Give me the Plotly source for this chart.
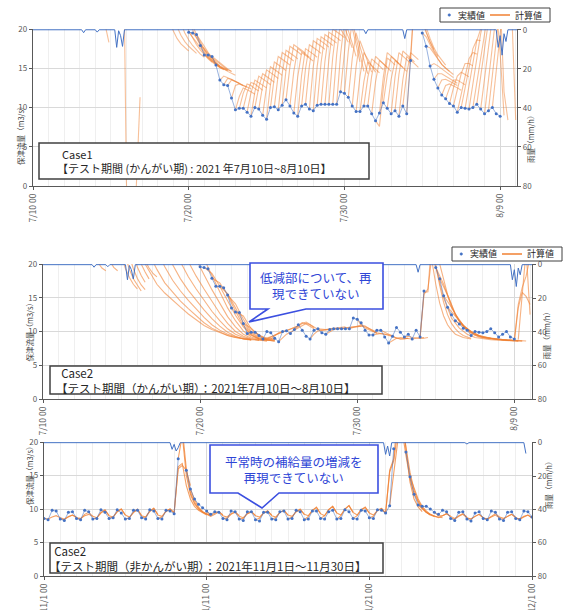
import plotly.graph_objects as go
import pandas as pd

# ======================= DATA =======================
# Observed flow (m3/s), 6-hourly from 2021-07-20 00:00 (None = above 20, off chart)
obs_jul_start = "2021-07-20 00:00"
obs_jul = [
    19.6, 19.5, 19.3, 17.9,   # 7/20
    16.7, 16.7, 16.5, 15.4,   # 7/21
    13.5, 12.9, 12.8, 11.2,   # 7/22
    9.7, 9.9, 9.9, 9.4,       # 7/23
    8.9, 10.0, 9.8, 9.0,      # 7/24
    8.5, 10.0, 10.1, 9.7,     # 7/25
    10.3, 11.0, 10.2, 9.3,    # 7/26
    8.9, 10.2, 10.4, 9.8,     # 7/27
    9.6, 10.3, 10.4, 10.4,    # 7/28
    10.4, 10.4, 10.4, 12.0,   # 7/29
    11.8, 11.3, 10.2, 9.5,    # 7/30
    9.5, 10.2, 10.2, 9.2,     # 7/31
    8.3, 9.3, 10.6, 9.9,      # 8/1
    9.2, 9.6, 8.9, 10.2,      # 8/2
    9.2, 16.0, None, None,    # 8/3
    19.5, 17.8, 15.3, 13.6,   # 8/4
    12.5, 11.6, 11.1, 10.5,   # 8/5
    10.2, 9.4, 10.0, 9.9,     # 8/6
    9.8, 10.0, 10.4, 9.8,     # 8/7
    9.2, 9.6, 10.0, 9.2,      # 8/8
    8.9,                      # 8/9
]

# Observed flow, 6-hourly from 2021-11-01 00:00
obs_nov_start = "2021-11-01 00:00"
obs_nov = [
    8.6, 8.4, 9.8, 9.7,    # 11/1
    8.5, 8.3, 9.5, 9.6,    # 11/2
    8.6, 8.4, 9.8, 9.6,    # 11/3
    8.5, 8.6, 9.9, 9.5,    # 11/4
    8.6, 8.7, 9.9, 9.4,    # 11/5
    8.5, 8.6, 9.8, 9.8,    # 11/6
    8.7, 8.5, 9.9, 9.7,    # 11/7
    8.6, 8.5, 9.8, 9.7,    # 11/8
    9.3, 17.5, None, 15.8, # 11/9
    13.0, 11.5, 10.7, 10.2,# 11/10
    9.7, 9.2, 9.6, 9.5,    # 11/11
    8.6, 8.4, 9.7, 9.6,    # 11/12
    8.5, 8.3, 9.6, 9.6,    # 11/13
    8.4, 8.2, 9.5, 9.5,    # 11/14
    8.5, 8.4, 9.6, 9.7,    # 11/15
    8.5, 8.6, 9.8, 9.6,    # 11/16
    8.4, 8.5, 9.7, 9.7,    # 11/17
    8.6, 8.5, 9.6, 9.8,    # 11/18
    8.5, 8.6, 9.9, 9.6,    # 11/19
    8.6, 8.5, 9.8, 9.7,    # 11/20
    8.7, 8.6, 9.9, 9.8,    # 11/21
    9.4, 10.5, 19.0, None, # 11/22
    None, 18.5, 14.8, 12.2,# 11/23
    10.6, 10.4, 10.4, 10.0,# 11/24
    9.5, 9.2, 9.8, 9.6,    # 11/25
    8.6, 8.3, 9.5, 9.6,    # 11/26
    8.5, 8.2, 9.4, 9.6,    # 11/27
    8.6, 8.4, 9.7, 9.5,    # 11/28
    8.5, 8.3, 9.5, 9.6,    # 11/29
    8.6, 8.4, 9.7, 9.6,    # 11/30
    8.8,                   # 12/1
]

# Rainfall (mm/h) event points
rain_jul_t = ["2021-07-10 00:00", "2021-07-13 03:00", "2021-07-13 06:00", "2021-07-13 09:00",
              "2021-07-14 00:00", "2021-07-14 03:00", "2021-07-14 06:00",
              "2021-07-15 06:00", "2021-07-15 09:00", "2021-07-15 12:00", "2021-07-15 15:00",
              "2021-07-15 18:00", "2021-07-15 21:00",
              "2021-07-31 06:00", "2021-07-31 09:00", "2021-07-31 12:00",
              "2021-08-02 18:00", "2021-08-02 21:00", "2021-08-03 00:00",
              "2021-08-08 18:00", "2021-08-08 21:00", "2021-08-09 00:00", "2021-08-09 03:00",
              "2021-08-09 06:00", "2021-08-09 09:00", "2021-08-09 12:00", "2021-08-10 03:00"]
rain_jul_v = [0, 0, 1.5, 0,
              0, 1.2, 0,
              0, 9.0, 0.5, 3.0, 8.5, 0,
              0, 2.0, 0,
              0, 4.5, 0,
              0, 9.0, 3.0, 13.0, 2.0, 6.0, 0, 0]

rain_nov_t = ["2021-11-01 00:00", "2021-11-08 18:00", "2021-11-08 21:00", "2021-11-09 00:00",
              "2021-11-09 03:00", "2021-11-09 06:00", "2021-11-09 09:00",
              "2021-11-21 21:00", "2021-11-22 00:00", "2021-11-22 03:00", "2021-11-22 06:00",
              "2021-11-22 09:00",
              "2021-11-26 21:00", "2021-11-27 00:00", "2021-11-27 03:00",
              "2021-11-30 12:00", "2021-11-30 15:00"]
rain_nov_v = [0, 0, 4.0, 1.0, 5.0, 3.0, 0,
              0, 7.0, 2.0, 8.0, 0,
              0, 0.8, 0,
              0, 6.5]

# Calculated flows: (issue time, step hours, values)
case1_fc = [
    ("2021-07-14 15:00", 3, [20.6, 19.4, 18.3]),
    ("2021-07-15 21:00", 3, [21.0, 0.5, -8.0]),
    ("2021-07-16 15:00", 3, [-0.5, 5.5, 11.3]),
    ("2021-07-18 12:00", 6, [23, 21.2, 19.8, 18.8, 18.1, 17.6, 17.2]),
    ("2021-07-18 18:00", 6, [23.5, 21.8, 20.3, 19.2, 18.4, 17.8, 17.3, 16.9]),
    ("2021-07-19 00:00", 6, [24, 22.2, 20.7, 19.5, 18.6, 17.9, 17.3, 16.8, 16.4]),
    ("2021-07-19 06:00", 6, [24, 22.4, 21.0, 19.8, 18.8, 18.0, 17.3, 16.7, 16.2, 15.8]),
    ("2021-07-19 12:00", 6, [24, 22.5, 21.1, 19.9, 18.8, 17.9, 17.1, 16.4, 15.9, 15.5]),
    ("2021-07-19 18:00", 6, [23, 21.6, 20.4, 19.3, 18.3, 17.4, 16.7, 16.1, 15.6, 15.2]),
    ("2021-07-20 00:00", 6, [19.6, 19.0, 18.3, 17.6, 16.9, 16.3, 15.8, 15.4, 15.1, 14.9]),
    ("2021-07-20 06:00", 6, [19.5, 18.9, 18.1, 17.3, 16.6, 16.0, 15.5, 15.1, 14.8]),
    ("2021-07-20 12:00", 6, [19.3, 18.6, 17.8, 17.0, 16.3, 15.7, 15.2, 14.9, 14.7]),
    ("2021-07-20 18:00", 6, [17.9, 17.5, 16.9, 16.3, 15.7, 15.3, 15.0, 14.8]),
    ("2021-07-21 00:00", 6, [16.7, 16.4, 16.0, 15.6, 15.2, 14.9, 14.7]),
    ("2021-07-21 06:00", 6, [16.7, 16.3, 15.9, 15.5, 15.1, 14.8, 14.6]),
    ("2021-07-21 12:00", 6, [16.5, 16.1, 15.6, 15.2, 14.9, 14.6]),
    ("2021-07-21 18:00", 6, [15.4, 15.2, 14.9, 14.6, 14.3, 14.1]),
    ("2021-07-22 00:00", 6, [13.5, 14.0, 13.8, 13.5, 13.3, 13.1]),
    ("2021-07-22 06:00", 6, [12.9, 13.7, 13.6, 13.3, 13.0, 12.8]),
    ("2021-07-22 12:00", 6, [12.8, 13.5, 13.3, 13.0, 12.8, 12.6]),
    ("2021-07-22 18:00", 6, [11.2, 12.8, 13.0, 12.8, 12.6, 12.4]),
    ("2021-07-23 00:00", 6, [9.7, 11.4, 12.5, 12.3, 12.0, 11.7]),
    ("2021-07-23 06:00", 6, [9.9, 11.8, 13.0, 12.8, 12.4, 12.1]),
    ("2021-07-23 12:00", 6, [9.9, 11.9, 13.2, 13.0, 12.6, 12.2]),
    ("2021-07-23 18:00", 6, [9.4, 11.9, 13.5, 13.2, 12.9, 12.5]),
    ("2021-07-24 00:00", 6, [8.9, 12.0, 14.0, 13.7, 13.3, 12.9]),
    ("2021-07-24 06:00", 6, [10.0, 12.6, 14.3, 14.0, 13.6, 13.2]),
    ("2021-07-24 12:00", 6, [9.8, 12.8, 14.8, 14.5, 14.1, 13.7]),
    ("2021-07-24 18:00", 6, [9.0, 12.7, 15.2, 14.9, 14.5, 14.1]),
    ("2021-07-25 00:00", 6, [8.5, 12.9, 15.8, 15.5, 15.1, 14.7]),
    ("2021-07-25 06:00", 6, [10.0, 13.9, 16.5, 16.2, 15.8, 15.4]),
    ("2021-07-25 12:00", 6, [10.1, 14.2, 17.0, 16.7, 16.3, 15.9]),
    ("2021-07-25 18:00", 6, [9.7, 14.3, 17.3, 17.0, 16.6, 16.2]),
    ("2021-07-26 00:00", 6, [10.3, 14.8, 17.8, 17.5, 17.1, 16.7]),
    ("2021-07-26 06:00", 6, [11.0, 15.2, 18.0, 17.7, 17.3, 16.9]),
    ("2021-07-26 12:00", 6, [10.2, 14.6, 17.5, 17.2, 16.8, 16.4]),
    ("2021-07-26 18:00", 6, [9.3, 13.9, 17.0, 16.7, 16.3, 15.9]),
    ("2021-07-27 00:00", 6, [8.9, 14.1, 17.5, 17.2, 16.8, 16.4]),
    ("2021-07-27 06:00", 6, [10.2, 14.9, 18.0, 17.7, 17.3, 16.9]),
    ("2021-07-27 12:00", 6, [10.4, 15.3, 18.5, 18.2, 17.8, 17.4]),
    ("2021-07-27 18:00", 6, [9.8, 15.2, 18.8, 18.5, 18.1, 17.7]),
    ("2021-07-28 00:00", 6, [9.6, 15.2, 19.0, 18.7, 18.3, 17.9]),
    ("2021-07-28 06:00", 6, [10.3, 15.7, 19.3, 19.0, 18.6, 18.2]),
    ("2021-07-28 12:00", 6, [10.4, 15.9, 19.6, 19.3, 18.9, 18.5]),
    ("2021-07-28 18:00", 6, [10.4, 16.1, 20.0, 19.7, 19.3, 18.9]),
    ("2021-07-29 00:00", 6, [10.4, 16.4, 20.5, 20.0, 19.2, 18.3]),
    ("2021-07-29 06:00", 6, [10.4, 16.7, 21.0, 20.2, 19.0, 17.6]),
    ("2021-07-29 12:00", 6, [10.4, 16.7, 21.0, 19.8, 18.2, 16.5]),
    ("2021-07-29 18:00", 6, [12.0, 18.0, 22.0, 20.2, 18.0, 15.8]),
    ("2021-07-30 00:00", 6, [11.8, 17.2, 21.0, 19.0, 16.8, 14.6]),
    ("2021-07-30 06:00", 6, [11.3, 16.2, 19.5, 17.8, 16.0, 14.3]),
    ("2021-07-30 12:00", 6, [10.2, 15.2, 18.5, 17.2, 15.8, 14.5]),
    ("2021-07-30 18:00", 6, [9.5, 14.0, 17.0, 16.2, 15.3, 14.5]),
    ("2021-07-31 00:00", 6, [9.5, 13.3, 15.8, 15.4, 14.9, 14.4]),
    ("2021-07-31 06:00", 6, [10.2, 13.8, 16.2, 15.8, 15.3, 14.8]),
    ("2021-07-31 12:00", 6, [10.2, 14.0, 16.5, 16.1, 15.6, 15.1]),
    ("2021-07-31 18:00", 6, [9.2, 13.3, 16.0, 15.6, 15.1, 14.6]),
    ("2021-08-01 00:00", 6, [8.3, 7.6, 12.5, 16.3, 15.9, 15.4]),
    ("2021-08-01 06:00", 6, [9.3, 13.9, 17.0, 16.6, 16.1, 15.6]),
    ("2021-08-01 12:00", 6, [10.6, 14.1, 16.5, 16.1, 15.6, 15.1]),
    ("2021-08-01 18:00", 6, [9.9, 13.6, 16.0, 15.6, 15.1, 14.6]),
    ("2021-08-02 00:00", 6, [9.2, 13.9, 17.0, 16.6, 16.1, 15.6]),
    ("2021-08-02 06:00", 6, [9.6, 14.2, 17.2, 16.8, 16.3, 15.8]),
    ("2021-08-02 12:00", 6, [8.9, 13.5, 16.5, 16.1, 15.6, 15.1]),
    ("2021-08-02 18:00", 6, [10.2, 14.3, 17.0, 16.6, 16.1]),
    ("2021-08-03 00:00", 6, [9.2, 16.0, 24.0]),
    ("2021-08-03 06:00", 6, [16.0, 24, 22.5, 21.0, 19.6, 18.4, 17.4]),
    ("2021-08-03 12:00", 6, [25, 23, 21.2, 19.6, 18.3, 17.3, 16.5]),
    ("2021-08-03 18:00", 6, [24, 22, 20.2, 18.8, 17.6, 16.7, 16.0, 15.4]),
    ("2021-08-04 00:00", 6, [19.5, 19.0, 18.0, 17.0, 16.2, 15.5, 15.0, 14.6]),
    ("2021-08-04 06:00", 6, [17.8, 17.6, 16.9, 16.2, 15.5, 15.0, 14.6, 14.2]),
    ("2021-08-04 12:00", 6, [15.3, 15.6, 15.3, 14.9, 14.5, 14.1, 13.8]),
    ("2021-08-04 18:00", 6, [13.6, 14.3, 14.3, 14.0, 13.7, 13.4, 13.1]),
    ("2021-08-05 00:00", 6, [12.5, 13.5, 13.6, 13.4, 13.1, 12.8]),
    ("2021-08-05 06:00", 6, [11.6, 12.8, 13.0, 12.8, 12.5, 12.2]),
    ("2021-08-05 12:00", 6, [11.1, 12.5, 13.5, 13.5, 13.2, 12.9]),
    ("2021-08-05 18:00", 6, [10.5, 12.5, 14.0, 14.5, 14.2, 13.9]),
    ("2021-08-06 00:00", 6, [10.2, 12.3, 14.3, 15.6, 15.6, 15.3]),
    ("2021-08-06 06:00", 6, [9.4, 11.8, 14.2, 16.2, 17.0, 16.8]),
    ("2021-08-06 12:00", 6, [10.0, 12.6, 15.2, 17.5, 18.6, 18.5]),
    ("2021-08-06 18:00", 6, [9.9, 12.8, 15.8, 18.5, 20.0, 20.2]),
    ("2021-08-07 00:00", 6, [9.8, 13.0, 16.4, 19.4, 21.5, 22.0]),
    ("2021-08-07 06:00", 6, [10.0, 13.4, 17.0, 20.2, 22.5]),
    ("2021-08-07 12:00", 6, [10.4, 14.0, 17.8, 21.0, 23.0]),
    ("2021-08-07 18:00", 6, [9.8, 13.8, 18.0, 21.5, 23.5]),
    ("2021-08-08 00:00", 6, [9.2, 13.5, 18.0, 22.0]),
    ("2021-08-08 06:00", 6, [9.6, 14.2, 19.0, 23.0]),
    ("2021-08-08 12:00", 6, [10.0, 15.0, 20.0, 24.0]),
    ("2021-08-08 18:00", 6, [23.0, 17.0, 9.0]),
    ("2021-08-09 00:00", 6, [24.0, 12.0, 8.4]),
    ("2021-08-09 18:00", 6, [22.0, 8.4]),
]

case2_fc = [
    ("2021-07-13 06:00", 6, [21.5, 20.2, 19.4, 19.0]),
    ("2021-07-14 00:00", 6, [22.0, 20.5, 19.5, 19.0]),
    ("2021-07-14 18:00", 6, [23.0, 21.0, 19.3, 18.0, 17.0, 16.3]),
    ("2021-07-15 00:00", 6, [23.0, 21.0, 19.2, 17.8, 16.8, 16.0]),
    ("2021-07-15 06:00", 6, [23.0, 21.0, 19.3, 17.9, 16.9, 16.2]),
    ("2021-07-15 12:00", 6, [23.0, 21.2, 19.6, 18.3, 17.3]),
    ("2021-07-15 18:00", 6, [23.0, 21.4, 20.0, 18.8, 17.8]),
    ("2021-07-16 06:00", 6, [22.0, 20.5, 19.4, 18.6, 18.1]),
    ("2021-07-16 06:00", 12, [21.0, 18.9, 17.0, 15.7, 14.6, 13.6, 12.6, 11.7, 10.9, 10.3, 9.8, 9.4, 9.1, 8.9, 8.8]),
    ("2021-07-16 18:00", 12, [21.5, 19.2, 17.2, 15.8, 14.5, 13.4, 12.3, 11.3, 10.5, 9.9, 9.4, 9.1, 8.9, 8.8]),
    ("2021-07-17 06:00", 12, [22.0, 19.6, 17.6, 16.0, 14.6, 13.3, 12.1, 11.0, 10.2, 9.6, 9.2, 8.9, 8.8]),
    ("2021-07-17 18:00", 12, [22.0, 19.8, 17.8, 16.1, 14.6, 13.2, 11.9, 10.8, 9.9, 9.3, 8.9, 8.7]),
    ("2021-07-18 06:00", 12, [22.5, 20.2, 18.1, 16.3, 14.6, 13.0, 11.6, 10.4, 9.6, 9.1, 8.8, 8.7]),
    ("2021-07-18 18:00", 12, [22.5, 20.3, 18.2, 16.3, 14.4, 12.7, 11.2, 10.0, 9.3, 8.9, 8.7]),
    ("2021-07-19 06:00", 12, [23.0, 20.6, 18.4, 16.2, 14.1, 12.2, 10.7, 9.6, 9.0, 8.7, 8.6]),
    ("2021-07-19 18:00", 12, [23.0, 20.8, 18.3, 15.8, 13.5, 11.6, 10.1, 9.2, 8.8, 8.6]),
    ("2021-07-20 06:00", 12, [19.5, 18.6, 16.7, 14.5, 12.4, 10.7, 9.5, 8.9, 8.7, 8.6]),
    ("2021-07-20 18:00", 12, [17.9, 17.2, 15.4, 13.0, 10.9, 9.6, 8.9, 8.7, 8.6]),
    ("2021-07-21 06:00", 12, [16.7, 15.6, 13.5, 11.3, 9.8, 9.0, 8.7, 8.6]),
    ("2021-07-21 18:00", 12, [15.4, 14.1, 11.8, 10.0, 9.1, 8.8, 8.7]),
    ("2021-07-22 06:00", 12, [12.9, 12.3, 10.4, 9.3, 8.9, 8.8]),
    ("2021-07-22 18:00", 12, [11.2, 10.5, 9.4, 9.0, 8.9]),
    ("2021-07-23 00:00", 6, [9.7, 9.4, 9.1, 8.9, 8.8, 8.9, 9.2, 9.5, 9.7, 9.9]),
    ("2021-07-23 12:00", 6, [9.9, 9.5, 9.1, 8.8, 8.9, 9.3, 9.8, 10.0, 10.1]),
    ("2021-07-24 00:00", 6, [8.9, 9.0, 9.2, 9.5, 9.7, 9.9, 10.1, 10.3, 10.6, 10.8]),
    ("2021-07-25 00:00", 6, [8.5, 9.1, 9.6, 9.9, 10.2, 10.5, 10.9, 11.2, 11.0, 10.6]),
    ("2021-07-25 12:00", 6, [10.1, 10.3, 10.6, 10.9, 11.3, 11.1, 10.7, 10.4]),
    ("2021-07-26 00:00", 6, [10.3, 10.7, 11.2, 11.4, 11.0, 10.6, 10.3, 10.2, 10.2, 10.3]),
    ("2021-07-27 00:00", 6, [8.9, 9.6, 10.1, 10.2, 10.2, 10.3, 10.4, 10.4, 10.5, 10.5]),
    ("2021-07-27 12:00", 6, [10.4, 10.3, 10.3, 10.4, 10.5, 10.6, 10.7, 10.7]),
    ("2021-07-28 00:00", 6, [9.6, 10.0, 10.3, 10.4, 10.5, 10.6, 10.6, 10.7, 10.7, 10.8]),
    ("2021-07-29 00:00", 6, [10.4, 10.5, 10.6, 10.7, 10.8, 10.8, 10.7, 10.5, 10.2, 9.9]),
    ("2021-07-29 12:00", 6, [10.4, 10.6, 10.8, 11.0, 10.8, 10.4, 10.0, 9.7]),
    ("2021-07-30 00:00", 6, [11.8, 11.0, 10.5, 10.2, 10.0, 9.8, 9.7, 9.6, 9.5, 9.4]),
    ("2021-07-31 00:00", 6, [9.5, 9.6, 9.7, 9.6, 9.4, 9.2, 9.0, 8.9, 8.9, 9.0]),
    ("2021-07-31 12:00", 6, [10.2, 9.9, 9.6, 9.3, 9.0, 8.9, 8.9, 9.0]),
    ("2021-08-01 00:00", 6, [8.3, 8.7, 9.0, 9.1, 9.0, 8.9, 8.9, 9.0, 9.1, 9.1]),
    ("2021-08-02 00:00", 6, [9.2, 9.3, 9.1, 9.0, 9.0, 9.0, 9.1]),
    ("2021-08-03 00:00", 6, [9.0, 15.8, 15.9, 24.0]),
    ("2021-08-03 00:00", 6, [9.1, 15.5, 16.3, 22.0, 26.0]),
    ("2021-08-03 12:00", 6, [24.0, 20.5, 17.0, 14.2, 12.3, 11.0, 10.2, 9.6, 9.3, 9.1, 9.0, 8.9]),
    ("2021-08-03 18:00", 6, [23.0, 19.8, 16.8, 14.3, 12.5, 11.2, 10.4, 9.8, 9.4, 9.2, 9.0]),
    ("2021-08-03 12:00", 12, [23.0, 19.5, 15.0, 12.0, 10.5, 9.6, 9.1, 8.9, 8.8, 8.7, 8.7, 8.6, 8.6]),
    ("2021-08-03 18:00", 12, [24.0, 20.0, 15.5, 12.4, 10.7, 9.7, 9.2, 9.0, 8.9, 8.8, 8.7, 8.7, 8.6]),
    ("2021-08-04 00:00", 12, [19.5, 17.0, 13.6, 11.5, 10.2, 9.5, 9.1, 8.9, 8.8, 8.7, 8.6, 8.6]),
    ("2021-08-04 06:00", 12, [17.8, 15.4, 12.6, 10.9, 9.9, 9.3, 9.0, 8.9, 8.8, 8.7, 8.6]),
    ("2021-08-04 12:00", 12, [15.3, 13.6, 11.6, 10.3, 9.6, 9.2, 9.0, 8.8, 8.7, 8.6]),
    ("2021-08-04 18:00", 12, [13.6, 12.3, 10.9, 10.0, 9.4, 9.1, 8.9, 8.8, 8.7, 8.6]),
    ("2021-08-05 06:00", 12, [11.6, 10.8, 10.0, 9.4, 9.1, 8.9, 8.8, 8.7, 8.6]),
    ("2021-08-09 00:00", 6, [8.6, 13.5, 15.8, 15.2, 14.0]),
    ("2021-08-09 00:00", 6, [8.7, 14.0, 16.5, 18.2, 21.0]),
    ("2021-08-09 06:00", 6, [8.8, 16.0, 22.0, 12.5]),
]

case2_nov_fc = [
    ("2021-11-01 00:00", 6, [8.6, 8.5, 8.8, 9.0, 8.7, 8.5, 8.8, 9.1, 8.8]),
    ("2021-11-02 00:00", 6, [8.5, 8.4, 8.9, 9.1, 8.7, 8.6, 9.0, 9.2, 8.9]),
    ("2021-11-03 00:00", 6, [8.6, 8.5, 9.2, 9.5, 8.9, 8.7, 9.4, 9.8, 9.0]),
    ("2021-11-04 00:00", 6, [8.5, 8.7, 9.5, 9.9, 9.0, 8.8, 9.6, 10.0, 9.1]),
    ("2021-11-05 00:00", 6, [8.6, 8.8, 9.6, 10.0, 9.1, 8.8, 9.5, 9.9, 9.0]),
    ("2021-11-06 00:00", 6, [8.5, 8.7, 9.5, 10.0, 9.0, 8.8, 9.7, 10.1, 9.2]),
    ("2021-11-07 00:00", 6, [8.7, 8.8, 9.6, 10.1, 9.1, 8.9, 9.6, 10.0, 9.4]),
    ("2021-11-08 00:00", 6, [8.6, 8.8, 9.7, 10.0, 9.5, 16.0, 16.5, 15.8, 13.5]),
    ("2021-11-09 00:00", 6, [9.3, 16.3, 16.8, 13.5, 11.5, 10.4, 9.8, 9.4, 9.1]),
    ("2021-11-09 06:00", 6, [17.5, 21.0, 15.0, 12.2, 10.8, 10.0, 9.5, 9.2, 9.0]),
    ("2021-11-09 12:00", 6, [22.0, 16.0, 12.5, 11.0, 10.1, 9.6, 9.3, 9.1]),
    ("2021-11-10 00:00", 6, [13.0, 11.4, 10.3, 9.6, 9.2, 8.9, 9.2, 9.6, 9.1]),
    ("2021-11-11 00:00", 6, [9.6, 9.1, 9.4, 9.6, 9.0, 8.8, 9.3, 9.6, 9.0]),
    ("2021-11-12 00:00", 6, [8.6, 8.6, 9.2, 9.5, 8.9, 8.7, 9.3, 9.6, 9.0]),
    ("2021-11-13 00:00", 6, [8.5, 8.6, 9.3, 9.6, 9.0, 8.8, 9.4, 9.7, 9.1]),
    ("2021-11-14 00:00", 6, [8.4, 8.6, 9.4, 9.7, 9.0, 8.8, 9.5, 9.8, 9.1]),
    ("2021-11-15 00:00", 6, [8.5, 8.7, 9.5, 9.8, 9.1, 8.9, 9.6, 9.9, 9.2]),
    ("2021-11-16 00:00", 6, [8.5, 8.8, 9.6, 10.0, 9.2, 9.0, 9.8, 10.2, 9.3]),
    ("2021-11-17 00:00", 6, [8.4, 8.9, 9.8, 10.3, 9.3, 9.0, 9.9, 10.4, 9.4]),
    ("2021-11-18 00:00", 6, [8.6, 9.0, 9.9, 10.4, 9.4, 9.1, 10.0, 10.5, 9.5]),
    ("2021-11-19 00:00", 6, [8.5, 9.0, 10.0, 10.5, 9.5, 9.1, 9.9, 10.3, 9.4]),
    ("2021-11-20 00:00", 6, [8.6, 9.0, 9.9, 10.2, 9.4, 9.1, 9.8, 10.1, 9.3]),
    ("2021-11-21 00:00", 6, [8.7, 8.9, 9.8, 10.1, 9.4, 15.8, 17.5, 24.0]),
    ("2021-11-22 00:00", 6, [9.4, 15.5, 17.2, 23.0, 26.0]),
    ("2021-11-22 06:00", 6, [10.5, 16.0, 21.0, 25.0, 19.0, 14.0, 11.5, 10.3, 9.6]),
    ("2021-11-22 18:00", 6, [24.0, 22.0, 18.0, 14.5, 12.3, 11.0, 10.1, 9.5, 9.1]),
    ("2021-11-23 00:00", 6, [23.0, 19.5, 15.5, 12.8, 11.2, 10.2, 9.5, 9.1, 8.9]),
    ("2021-11-23 12:00", 6, [14.8, 13.0, 11.5, 10.4, 9.7, 9.2, 8.9, 8.8, 8.7]),
    ("2021-11-24 00:00", 6, [10.6, 10.0, 9.5, 9.2, 8.9, 8.7, 9.0, 9.3, 8.9]),
    ("2021-11-25 00:00", 6, [9.5, 9.0, 9.0, 9.3, 8.9, 8.6, 9.0, 9.3, 8.8]),
    ("2021-11-26 00:00", 6, [8.6, 8.5, 8.9, 9.2, 8.7, 8.5, 8.9, 9.2, 8.7]),
    ("2021-11-27 00:00", 6, [8.5, 8.5, 8.9, 9.2, 8.7, 8.5, 8.8, 9.1, 8.7]),
    ("2021-11-28 00:00", 6, [8.6, 8.5, 8.9, 9.3, 8.8, 8.6, 8.9, 9.2, 8.8]),
    ("2021-11-29 00:00", 6, [8.5, 8.5, 8.9, 9.2, 8.7, 8.5, 8.8, 9.1, 8.7]),
    ("2021-11-30 00:00", 6, [8.6, 8.5, 8.9, 9.1, 8.7]),
]

# Axis ticks / labels
jul_tickvals = ["2021-07-10", "2021-07-20", "2021-07-30", "2021-08-09"]
jul_ticktext = ["7/10 00", "7/20 00", "7/30 00", "8/9 00"]
nov_tickvals = ["2021-11-01", "2021-11-11", "2021-11-21", "2021-12-01"]
nov_ticktext = ["11/1 00", "11/11 00", "11/21 00", "12/1 00"]

legend_names = ["実績値", "計算値"]
y_left_title = "保津流量（m3/s）"
y_right_title = "雨量（mm/h）"
case_titles = ["Case1", "Case2", "Case2"]
period_texts = ["【テスト期間 (かんがい期) : 2021 年7月10日~8月10日】",
                "【テスト期間（かんがい期）：2021年7月10日～8月10日】",
                "【テスト期間（非かんがい期）：2021年11月1日～11月30日】"]
callout_texts = [["低減部について、再", "現できていない"],
                 ["平常時の補給量の増減を", "再現できていない"]]

# ======================= FIGURE =======================
W, H = 564, 610
def px(x): return x / W
def py(y): return 1 - y / H

FONT = "Noto Sans CJK JP, Noto Sans, sans-serif"
BLUE = "#4472C4"
ORANGE = "#F08032"
ORANGE_C1 = "rgba(240,128,50,0.5)"
ORANGE_C2 = "rgba(240,128,50,0.6)"
ORANGE_C3 = "rgba(240,128,50,0.75)"
AX = "#595959"
GRID = "#d9d9d9"
MINOR = "#efefef"

fig = go.Figure()

panels = [
    dict(xa="x", ya="y", ya2="y2", fc=case1_fc, col=ORANGE_C1, obs=(obs_jul_start, obs_jul),
         rain=(rain_jul_t, rain_jul_v)),
    dict(xa="x2", ya="y3", ya2="y4", fc=case2_fc, col=ORANGE_C2, obs=(obs_jul_start, obs_jul),
         rain=(rain_jul_t, rain_jul_v)),
    dict(xa="x3", ya="y5", ya2="y6", fc=case2_nov_fc, col=ORANGE_C3, obs=(obs_nov_start, obs_nov),
         rain=(rain_nov_t, rain_nov_v)),
]

for p in panels:
    for i, (t0, step, vals) in enumerate(p["fc"]):
        xs = pd.date_range(t0, periods=len(vals), freq=f"{step}h")
        fig.add_trace(go.Scatter(x=xs, y=vals, mode="lines", xaxis=p["xa"], yaxis=p["ya"],
                                 line=dict(color=p["col"], width=1.1), name=legend_names[1],
                                 showlegend=False, hoverinfo="skip"))
    st, ov = p["obs"]
    xo = pd.date_range(st, periods=len(ov), freq="6h")
    fig.add_trace(go.Scatter(x=xo, y=ov, mode="lines", xaxis=p["xa"], yaxis=p["ya"],
                             line=dict(color="rgba(68,114,196,0.55)", width=1),
                             showlegend=False, hoverinfo="skip"))
    fig.add_trace(go.Scatter(x=xo, y=ov, mode="markers", xaxis=p["xa"], yaxis=p["ya"],
                             marker=dict(color=BLUE, size=3), name=legend_names[0],
                             showlegend=False, hoverinfo="skip"))
    rt, rv = p["rain"]
    fig.add_trace(go.Scatter(x=pd.to_datetime(rt), y=rv, mode="lines", xaxis=p["xa"], yaxis=p["ya2"],
                             line=dict(color=BLUE, width=1), showlegend=False, hoverinfo="skip"))

def xaxis_cfg(dom, anchor, rng, tv, tt):
    return dict(domain=dom, anchor=anchor, type="date", range=rng, automargin=False,
                tickmode="array", tickvals=tv, ticktext=tt, tickangle=-90,
                tickfont=dict(size=8.5, color=AX), ticks="outside", ticklen=3, tickcolor=AX,
                showline=True, linecolor=AX, linewidth=1.2,
                showgrid=True, gridcolor=GRID, gridwidth=1,
                minor=dict(tickvals=list(pd.date_range(rng[0][:10], rng[1][:10], freq="D")),
                           showgrid=True, gridcolor=MINOR, gridwidth=1, ticks=""),
                zeroline=False, fixedrange=True)

def yleft_cfg(dom, anchor):
    return dict(domain=dom, anchor=anchor, range=[0, 20], dtick=5, tick0=0, automargin=False,
                tickfont=dict(size=8, color=AX), ticks="outside", ticklen=3, tickcolor=AX,
                showline=True, linecolor=AX, linewidth=1.2, showgrid=True, gridcolor=GRID,
                zeroline=False, fixedrange=True)

def yright_cfg(over, anchor):
    return dict(overlaying=over, anchor=anchor, side="right", range=[80, -0.4], automargin=False,
                tickvals=[0, 20, 40, 60, 80], tickfont=dict(size=8, color=AX),
                ticks="outside", ticklen=3, tickcolor=AX, showline=True, linecolor=AX,
                linewidth=1.2, showgrid=False, zeroline=False, fixedrange=True)

jul_rng1 = ["2021-07-10 00:00", "2021-08-10 02:00"]
jul_rng2 = ["2021-07-10 00:00", "2021-08-10 03:00"]
nov_rng = ["2021-11-01 00:00", "2021-12-01 00:00"]

fig.update_layout(
    template="none",
    width=W, height=H, margin=dict(l=0, r=0, t=0, b=0, autoexpand=False),
    paper_bgcolor="white", plot_bgcolor="white",
    font=dict(family=FONT, color="#262626"),
    showlegend=False,
    xaxis=xaxis_cfg([px(33), px(517)], "y", jul_rng1, jul_tickvals, jul_ticktext),
    yaxis=yleft_cfg([py(186), py(29)], "x"),
    yaxis2=yright_cfg("y", "x"),
    xaxis2=xaxis_cfg([px(43), px(532)], "y3", jul_rng2, jul_tickvals, jul_ticktext),
    yaxis3=yleft_cfg([py(399), py(264)], "x2"),
    yaxis4=yright_cfg("y3", "x2"),
    xaxis3=xaxis_cfg([px(44), px(532)], "y5", nov_rng, nov_tickvals, nov_ticktext),
    yaxis5=yleft_cfg([py(576), py(442)], "x3"),
    yaxis6=yright_cfg("y5", "x3"),
)

shapes = []
annotations = []

# Legend boxes (drawn as box + symbols + real text)
for (L, T) in [(440, 8), (452, 247)]:
    hgt = 14
    cy = T + hgt / 2
    shapes.append(dict(type="rect", xref="paper", yref="paper", x0=px(L), x1=px(L + 110),
                       y0=py(T + hgt), y1=py(T), line=dict(color="#404040", width=1),
                       fillcolor="white", layer="above"))
    shapes.append(dict(type="circle", xref="paper", yref="paper", x0=px(L + 8), x1=px(L + 10.5),
                       y0=py(cy + 1.25), y1=py(cy - 1.25), line=dict(color=BLUE, width=0.5),
                       fillcolor=BLUE, layer="above"))
    shapes.append(dict(type="line", xref="paper", yref="paper", x0=px(L + 50), x1=px(L + 70),
                       y0=py(cy), y1=py(cy), line=dict(color=ORANGE, width=1.5), layer="above"))
    annotations.append(dict(xref="paper", yref="paper", x=px(L + 16), y=py(cy), text=legend_names[0],
                            showarrow=False, xanchor="left", yanchor="middle",
                            font=dict(size=9, color="#262626")))
    annotations.append(dict(xref="paper", yref="paper", x=px(L + 73), y=py(cy), text=legend_names[1],
                            showarrow=False, xanchor="left", yanchor="middle",
                            font=dict(size=9, color="#262626")))

# Case text boxes (one two-line text each)
boxes = [(39, 143, 369, 179, 55, 11),
         (50, 366, 382, 394, 54, 11.5),
         (50, 543, 383, 573, 47, 11.5)]
for i, (x0, y0, x1, y1, tx, fs) in enumerate(boxes):
    shapes.append(dict(type="rect", xref="paper", yref="paper", x0=px(x0), x1=px(x1),
                       y0=py(y1), y1=py(y0), line=dict(color="#404040", width=1.5),
                       fillcolor="white", layer="above"))
    annotations.append(dict(xref="paper", yref="paper", x=px(tx), y=py((y0 + y1) / 2),
                            text="&nbsp;&nbsp;" + case_titles[i] + "<br>" + period_texts[i],
                            showarrow=False, xanchor="left", yanchor="middle", align="left",
                            font=dict(size=fs, color="#262626")))

# Callouts
def path_of(pts):
    return "M " + " L ".join(f"{px(a):.5f},{py(b):.5f}" for a, b in pts) + " Z"

callouts = [
    ([(250, 263), (383, 263), (383, 309), (306, 309), (249, 322), (268, 309), (250, 309)], 316, 286),
    ([(210, 445), (378, 445), (378, 493), (279, 493), (262, 508), (238, 493), (210, 493)], 294, 469),
]
for k, (pts, cx, cy) in enumerate(callouts):
    shapes.append(dict(type="path", xref="paper", yref="paper", path=path_of(pts),
                       line=dict(color="#3B4FE0", width=1.6), fillcolor="white", layer="above"))
    annotations.append(dict(xref="paper", yref="paper", x=px(cx), y=py(cy),
                            text="<br>".join(callout_texts[k]),
                            showarrow=False, xanchor="center", yanchor="middle", align="center",
                            font=dict(size=12.5, color="#2E45D6")))

# Axis titles
for (lx, ly), (rx, ry) in [((13, 100), (538, 110)), ((21, 330), (553, 334)), ((22, 507), (556, 511))]:
    annotations.append(dict(xref="paper", yref="paper", x=px(lx), y=py(ly), text=y_left_title,
                            textangle=-90, showarrow=False, font=dict(size=7.5, color="#404040")))
    annotations.append(dict(xref="paper", yref="paper", x=px(rx), y=py(ry), text=y_right_title,
                            textangle=-90, showarrow=False, font=dict(size=7.5, color="#404040")))

fig.update_layout(shapes=shapes, annotations=annotations)

fig.write_html("out.html", config={"displayModeBar": False, "staticPlot": True},
               post_script="document.body.style.margin='0';document.body.style.overflow='hidden';")
